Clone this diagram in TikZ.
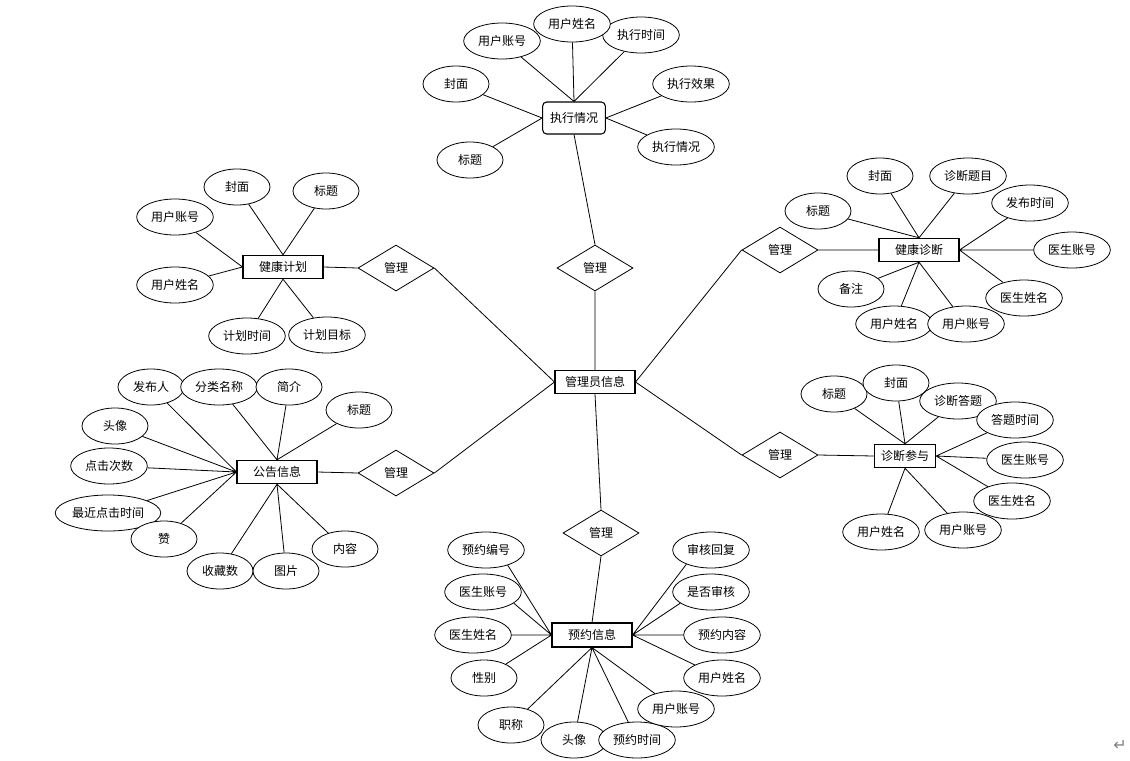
\documentclass[tikz,border=0pt]{standalone}
\usepackage{fontspec}
\setmainfont{Noto Sans CJK SC}
\newfontfamily\markfont{DejaVu Sans}
\usetikzlibrary{shapes.geometric}

\begin{document}
\begin{tikzpicture}[
    x=0.75pt, y=-0.75pt,
    font=\fontsize{9}{11}\selectfont,
    entity/.style={rectangle, draw, line width=0.8pt, fill=white, minimum width=60pt, minimum height=17.5pt, inner sep=1pt},
    attr/.style={ellipse, draw, fill=white, line width=0.6pt, minimum width=49.5pt, minimum height=27pt, inner sep=1pt},
    attrw/.style={attr, minimum width=57.5pt},
    rel/.style={diamond, draw, line width=0.6pt, fill=white, minimum width=57pt, minimum height=34.5pt, inner sep=0pt},
    link/.style={line width=0.6pt}
]
    \useasboundingbox (0,0) rectangle (1130,760);

    % Entities
    \node[entity] (admin) at (595,382) {管理员信息};
    \node[entity, minimum width=47pt, minimum height=24pt, rounded corners=3pt] (exe) at (574,118) {执行情况};
    \node[entity] (plan) at (283,267) {健康计划};
    \node[entity] (notice) at (277,472) {公告信息};
    \node[entity] (diag) at (919,250) {健康诊断};
    \node[entity, minimum width=46pt] (part) at (905,456) {诊断参与};
    \node[entity, minimum height=18pt] (appt) at (592,635) {预约信息};

    % Relations
    \node[rel] (mexe) at (595,268) {管理};
    \node[rel] (mplan) at (396,268) {管理};
    \node[rel] (mnotice) at (396,473) {管理};
    \node[rel] (mdiag) at (780,250) {管理};
    \node[rel] (mpart) at (780,455) {管理};
    \node[rel] (mappt) at (601,533) {管理};

    % Attributes: 执行情况
    \node[attrw] (exe-acct) at (502,41) {用户账号};
    \node[attrw] (exe-time) at (641,35) {执行时间};
    \node[attrw] (exe-name) at (572,24) {用户姓名};
    \node[attr] (exe-cover) at (456,84) {封面};
    \node[attrw] (exe-effect) at (691,84) {执行效果};
    \node[attr] (exe-title) at (470,160) {标题};
    \node[attrw] (exe-state) at (676,147) {执行情况};

    % Attributes: 健康计划
    \node[attr] (plan-cover) at (237,187) {封面};
    \node[attr] (plan-title) at (326,191) {标题};
    \node[attrw] (plan-acct) at (175,217) {用户账号};
    \node[attrw] (plan-name) at (175,285) {用户姓名};
    \node[attrw] (plan-time) at (247,336) {计划时间};
    \node[attrw] (plan-goal) at (327,335) {计划目标};

    % Attributes: 健康诊断
    \node[attr] (diag-cover) at (880,176) {封面};
    \node[attrw] (diag-topic) at (968,176) {诊断题目};
    \node[attr] (diag-title) at (818,211) {标题};
    \node[attrw] (diag-pub) at (1030,203) {发布时间};
    \node[attrw] (diag-docacct) at (1072,250) {医生账号};
    \node[attr] (diag-note) at (851,289) {备注};
    \node[attrw] (diag-docname) at (1024,298) {医生姓名};
    \node[attrw] (diag-name) at (894,324) {用户姓名};
    \node[attrw] (diag-acct) at (966,324) {用户账号};

    % Attributes: 诊断参与
    \node[attr] (part-title) at (834,394) {标题};
    \node[attrw] (part-answer) at (958,401) {诊断答题};
    \node[attr] (part-cover) at (896,383) {封面};
    \node[attrw] (part-time) at (1015,420) {答题时间};
    \node[attrw] (part-docacct) at (1025,460) {医生账号};
    \node[attrw] (part-docname) at (1012,501) {医生姓名};
    \node[attrw] (part-name) at (881,532) {用户姓名};
    \node[attrw] (part-acct) at (963,530) {用户账号};

    % Attributes: 公告信息
    \node[attr] (notice-pub) at (151,387) {发布人};
    \node[attrw] (notice-class) at (219,387) {分类名称};
    \node[attr] (notice-intro) at (289,387) {简介};
    \node[attr] (notice-title) at (359,410) {标题};
    \node[attr] (notice-avatar) at (115,426) {头像};
    \node[attrw] (notice-clicks) at (109,466) {点击次数};
    \node[attr, minimum width=76pt] (notice-last) at (108,513) {最近点击时间};
    \node[attr] (notice-like) at (164,539) {赞};
    \node[attr] (notice-fav) at (220,571) {收藏数};
    \node[attr] (notice-pic) at (286,571) {图片};
    \node[attr] (notice-body) at (345,549) {内容};

    % Attributes: 预约信息
    \node[attrw] (appt-no) at (486,550) {预约编号};
    \node[attrw] (appt-docacct) at (483,592) {医生账号};
    \node[attrw] (appt-docname) at (473,635) {医生姓名};
    \node[attr] (appt-sex) at (484,678) {性别};
    \node[attr] (appt-rank) at (511,725) {职称};
    \node[attr] (appt-avatar) at (574,740) {头像};
    \node[attrw] (appt-time) at (637,740) {预约时间};
    \node[attrw] (appt-reply) at (711,550) {审核回复};
    \node[attrw] (appt-check) at (711,592) {是否审核};
    \node[attrw] (appt-content) at (722,635) {预约内容};
    \node[attrw] (appt-name) at (722,678) {用户姓名};
    \node[attrw] (appt-acct) at (676,709) {用户账号};

    % Paragraph mark
    \node[text=gray, font=\markfont\fontsize{12}{12}\selectfont] (pmark) at (1120,745) {↵};

    % Relation links
    \draw[link] (exe.south) -- (mexe.north) (mexe.south) -- (admin.north);
    \draw[link] (plan.east) -- (mplan.west) (mplan.east) -- (admin.west);
    \draw[link] (notice.east) -- (mnotice.west) (mnotice.east) -- (admin.west);
    \draw[link] (diag.west) -- (mdiag.east) (mdiag.west) -- (admin.east);
    \draw[link] (part.west) -- (mpart.east) (mpart.west) -- (admin.east);
    \draw[link] (appt.north) -- (mappt.south) (mappt.north) -- (admin.south);

    % Attribute links
    \draw[link] (exe.north) -- (exe-acct) (exe.north) -- (exe-name) (exe.north) -- (exe-time);
    \draw[link] (exe.west) -- (exe-cover) (exe.west) -- (exe-title);
    \draw[link] (exe.east) -- (exe-effect) (exe.east) -- (exe-state);

    \draw[link] (plan.north) -- (plan-cover) (plan.north) -- (plan-title);
    \draw[link] (plan.west) -- (plan-acct) (plan.west) -- (plan-name);
    \draw[link] (plan.south) -- (plan-time) (plan.south) -- (plan-goal);

    \draw[link] (diag.north) -- (diag-cover) (diag.north) -- (diag-topic) (diag.north) -- (diag-title);
    \draw[link] (diag.east) -- (diag-pub) (diag.east) -- (diag-docacct) (diag.east) -- (diag-docname);
    \draw[link] (diag.south) -- (diag-note) (diag.south) -- (diag-name) (diag.south) -- (diag-acct);

    \draw[link] (part.north) -- (part-title) (part.north) -- (part-cover) (part.north) -- (part-answer);
    \draw[link] (part.east) -- (part-time) (part.east) -- (part-docacct) (part.east) -- (part-docname);
    \draw[link] (part.south) -- (part-name) (part.south) -- (part-acct);

    \draw[link] (notice.west) -- (notice-pub) (notice.west) -- (notice-avatar) (notice.west) -- (notice-clicks)
        (notice.west) -- (notice-last) (notice.west) -- (notice-like);
    \draw[link] (notice.north) -- (notice-class) (notice.north) -- (notice-intro) (notice.north) -- (notice-title);
    \draw[link] (notice.south) -- (notice-fav) (notice.south) -- (notice-pic) (notice.south) -- (notice-body);

    \draw[link] (appt.west) -- (appt-no.-35) (appt.west) -- (appt-docacct.-20) (appt.west) -- (appt-docname) (appt.west) -- (appt-sex);
    \draw[link] (appt.south) -- (appt-rank) (appt.south) -- (appt-avatar) (appt.south) -- (appt-time) (appt.south) -- (appt-acct);
    \draw[link] (appt.east) -- (appt-reply.-150) (appt.east) -- (appt-check.-160) (appt.east) -- (appt-content) (appt.east) -- (appt-name);
\end{tikzpicture}
\end{document}
